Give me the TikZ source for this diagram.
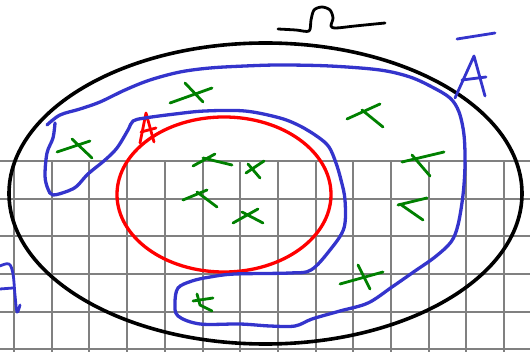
\documentclass[tikz,border=0pt]{standalone}
\begin{document}
\begin{tikzpicture}[x=1pt,y=-1pt,
  gridline/.style={draw={rgb,255:red,128;green,128;blue,128}, line width=2pt},
  ink/.style={line width=3.3pt, line cap=round, line join=round},
  blueink/.style={ink, draw={rgb,255:red,52;green,52;blue,204}},
  redink/.style={ink, draw=red},
  greenink/.style={line width=2.8pt, line cap=round, draw={rgb,255:red,0;green,128;blue,0}},
  blackink/.style={ink, draw=black}]
\useasboundingbox (0,0) rectangle (530,352);
% grid
\foreach \y in {161,198.7,236.4,274.1,311.8,349.5} \draw[gridline] (0,\y) -- (530,\y);
\foreach \i in {0,...,13} \draw[gridline] ({14+37.7*\i},161) -- ({14+37.7*\i},352);
% universe
\draw[blackink, line width=3.6pt] (265.5,193.5) ellipse [x radius=256.5, y radius=150.5];
% Omega
\draw[blackink, line width=2.8pt] plot[smooth, tension=0.5] coordinates {(278,29) (296,30) (309,31) (311,20) (314,10) (322,7) (330,10) (333,18) (331,26) (336,28) (355,26) (385,23)};
% set A
\draw[redink] (224,194.5) ellipse [x radius=107, y radius=77.5];
\draw[redink, line width=2.8pt] (140,143) -- (146,113) -- (154,142);
\draw[redink, line width=2.8pt] (141,132) -- (156,128);
% blue region
\draw[blueink] plot[smooth, tension=0.55] coordinates {
 (47,125) (60,115) (80,109) (100,102) (125,90) (150,80) (180,72) (210,68) (245,66) (280,65) (330,66) (380,70) (410,77) (432,87) (450,98) (459,112) (464,135) (465,165) (463,195) (458,225) (451,242) (435,257) (415,271) (392,287) (368,303) (340,311) (312,319) (295,326) (270,326) (240,324) (200,324) (178,316) (175,303) (178,288) (192,281) (210,277) (235,274) (290,273) (311,270) (330,250) (344,228) (345,200) (341,180) (336,163) (329,147) (318,137) (300,126) (280,118) (245,111) (205,111) (175,114) (145,118) (133,121) (128,130) (117,148) (105,160) (88,174) (77,186) (68,191) (53,195) (48,189) (45,176) (47,153) (53,138) (55,123)};
% label A-bar
\draw[blueink, line width=2.8pt] (455,98) -- (474,56) -- (485,96);
\draw[blueink, line width=2.8pt] (462,80) -- (486,77);
\draw[blueink, line width=2.8pt] (457,39) -- (495,33);
% partial A at left
\draw[blueink, line width=2.8pt] plot[smooth, tension=0.6] coordinates {(0,266) (9,264) (13,274) (15,295) (17,312) (20,305)};
\draw[blueink, line width=2.8pt] (0,289) -- (13,288);
% green crosses
\foreach \a/\b/\c/\d/\e/\f/\g/\h in {
  170/103/212/88/185/83/203/102,
  57/152/90/141/72/139/92/158,
  347/119/380/104/362/110/383/127,
  193/166/215/154/203/158/232/165,
  246/173/264/161/248/164/260/178,
  402/162/444/152/412/155/430/176,
  183/200/207/190/197/192/217/207,
  233/223/258/209/242/212/263/223,
  398/205/427/198/400/204/423/220,
  340/284/383/272/358/265/370/289}
  \draw[greenink] (\a,\b) -- (\c,\d) (\e,\f) -- (\g,\h);
\draw[greenink] (193,301) -- (213,298) (197,294) -- (200,305) -- (212,311);
\end{tikzpicture}
\end{document}
